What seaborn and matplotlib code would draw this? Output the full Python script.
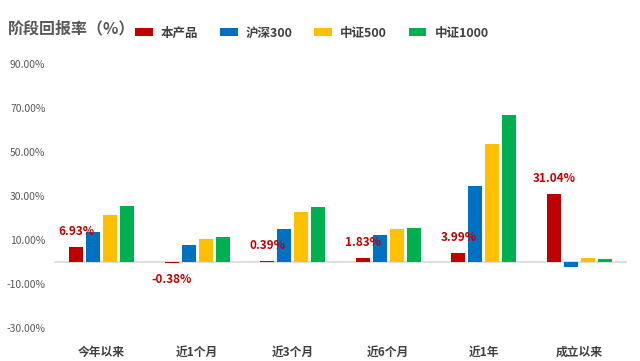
import seaborn as sns
import pandas as pd
import numpy as np
import matplotlib.pyplot as plt
from matplotlib.patches import Patch

sns.set_theme(style="white")
plt.rcParams['font.family'] = ['Noto Sans CJK SC', 'DejaVu Sans']

# data
periods = ['今年以来', '近1个月', '近3个月', '近6个月', '近1年', '成立以来']
series = ['本产品', '沪深300', '中证500', '中证1000']
product = [6.93, -0.38, 0.39, 1.83, 3.99, 31.04]
hs300 = [13.6, 7.9, 15.0, 12.3, 34.5, -2.1]
zz500 = [21.5, 10.5, 22.7, 15.0, 53.6, 1.8]
zz1000 = [25.6, 11.3, 25.0, 15.5, 66.8, 1.4]
yticks = [-30, -10, 10, 30, 50, 70, 90]
colors = ['#C00000', '#0070C0', '#FFC000', '#00B050']

df = pd.DataFrame({
    'period': np.tile(periods, 4),
    'series': np.repeat(series, len(periods)),
    'value': product + hs300 + zz500 + zz1000,
})

fig = plt.figure(figsize=(6.4, 3.61), dpi=100)
ax = fig.add_axes([0.084, 0.0731, 0.896, 0.768])

ax.axhline(0, color='#D9D9D9', lw=1.2, zorder=0)
sns.barplot(data=df, x='period', y='value', hue='series', order=periods,
            hue_order=series, palette=colors, saturation=1, width=0.71, gap=0.18,
            linewidth=0, legend=False, ax=ax, zorder=2)

ax.set_xlim(-0.5, len(periods) - 0.5)
ax.set_ylim(-33, 93)
ax.set_yticks(yticks)
ax.set_yticklabels([f'{t:.2f}%' for t in yticks], fontsize=7.5, color='#595959')
ax.set_xticks(range(len(periods)))
ax.set_xticklabels(periods, fontsize=8.5, fontweight='bold', color='#404040')
ax.tick_params(axis='x', length=0, pad=8)
ax.tick_params(axis='y', length=0, pad=6)
ax.set_xlabel('')
ax.set_ylabel('')
for s in ax.spines.values():
    s.set_visible(False)

# red labels on the product bars
red_bars = ax.patches[:len(periods)]
for bar, v in zip(red_bars, product):
    cx = bar.get_x() + bar.get_width() / 2
    dy = 11 if v >= 0 else -12
    ax.annotate(f'{v:.2f}%', (cx, v), xytext=(0, dy), textcoords='offset points',
                ha='center', va='center', fontsize=8.5, fontweight='bold', color='#C00000')

fig.text(8 / 640, 1 - 28 / 361, '阶段回报率（%）', fontsize=11.5, fontweight='bold',
         color='#595959', va='center', ha='left')

handles = [Patch(facecolor=c, edgecolor='none') for c in colors]
fig.legend(handles, series, loc='center left', bbox_to_anchor=(135 / 640, 1 - 33 / 361),
           ncol=4, frameon=False, prop={'size': 9, 'weight': 'bold'},
           handlelength=1.4, handleheight=0.6, handletextpad=0.65, columnspacing=1.75,
           borderpad=0, borderaxespad=0, labelcolor='#404040')

fig.savefig('out.png', dpi=100)
